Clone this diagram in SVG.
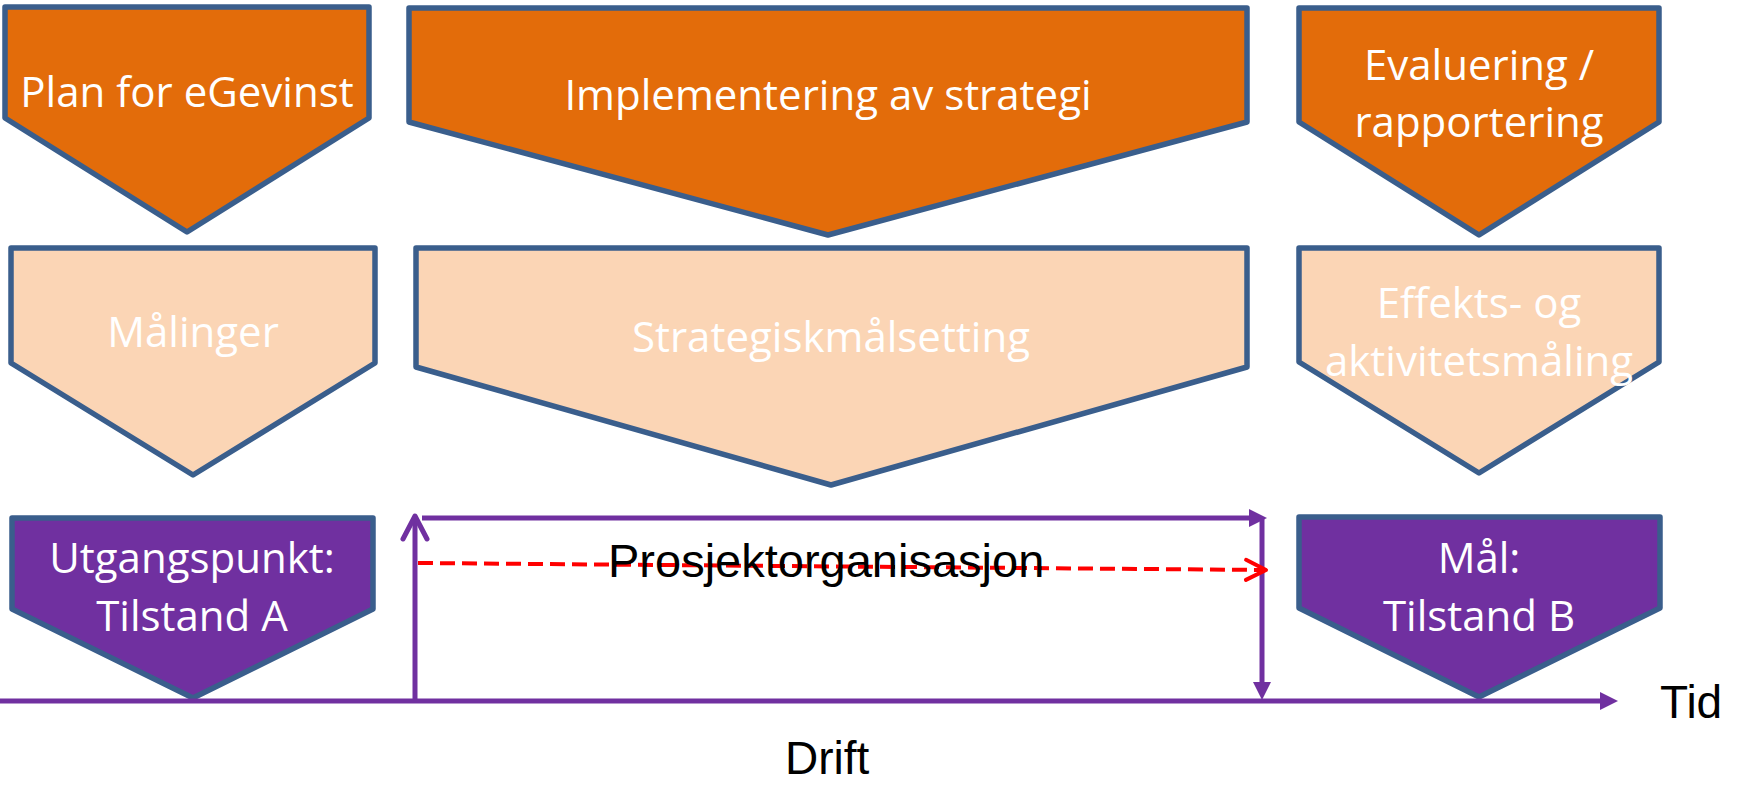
<svg xmlns="http://www.w3.org/2000/svg" width="1742" height="786" viewBox="0 0 1742 786">
  <style>
    .box { stroke: #3A5E8C; stroke-width: 5.5; stroke-linejoin: round; }
    .orange { fill: #E36C0A; }
    .peach { fill: #FBD5B5; }
    .purple { fill: #7030A0; }
    .wt { font-family: "Open Sans", "Noto Sans", sans-serif; font-size: 42px; fill: #FFFFFF; text-anchor: middle; }
    .bt { font-family: "Liberation Sans", Arial, sans-serif; font-size: 46px; fill: #000000; }
    .pline { stroke: #7030A0; stroke-width: 5; fill: none; }
    .rline { stroke: #FF0000; stroke-width: 4; fill: none; stroke-dasharray: 15 7; }
  </style>
  <defs>
    <marker id="tri" markerUnits="userSpaceOnUse" markerWidth="30" markerHeight="30" refX="0" refY="0" orient="auto" overflow="visible">
      <path d="M-10,-9 L8,0 L-10,9 Z" fill="#7030A0"/>
    </marker>
    <marker id="chevP" markerUnits="userSpaceOnUse" markerWidth="30" markerHeight="30" refX="0" refY="0" orient="auto" overflow="visible">
      <path d="M-23,-12 L0,0 L-23,12" fill="none" stroke="#7030A0" stroke-width="5" stroke-linecap="round" stroke-linejoin="round"/>
    </marker>
    <marker id="chevR" markerUnits="userSpaceOnUse" markerWidth="30" markerHeight="30" refX="0" refY="0" orient="auto" overflow="visible">
      <path d="M-20,-10 L0,0 L-20,10" fill="none" stroke="#FF0000" stroke-width="4" stroke-linecap="round" stroke-linejoin="round"/>
    </marker>
  </defs>
  <rect width="1742" height="786" fill="#FFFFFF"/>

  <g id="plan">
    <polygon class="box orange" points="5,7 369,7 369,118 187,232 5,118"/>
    <text class="wt" x="187" y="107">Plan for eGevinst</text>
  </g>
  <g id="implementering">
    <polygon class="box orange" points="409,8 1247,8 1247,122 828,235 409,122"/>
    <text class="wt" x="828" y="110">Implementering av strategi</text>
  </g>
  <g id="evaluering">
    <polygon class="box orange" points="1299,8 1659,8 1659,122 1479,235 1299,122"/>
    <text class="wt" x="1479" y="80">Evaluering /</text>
    <text class="wt" x="1479" y="137">rapportering</text>
  </g>
  <g id="malinger">
    <polygon class="box peach" points="11,248 375,248 375,363 193,475 11,363"/>
    <text class="wt" x="193" y="347">Målinger</text>
  </g>
  <g id="strategisk">
    <polygon class="box peach" points="416,248 1247,248 1247,367 831,485 416,367"/>
    <text class="wt" x="831" y="352">Strategiskmålsetting</text>
  </g>
  <g id="effekt">
    <polygon class="box peach" points="1299,248 1659,248 1659,362 1479,473 1299,362"/>
    <text class="wt" x="1479" y="318">Effekts- og</text>
    <text class="wt" x="1479" y="376">aktivitetsmåling</text>
  </g>
  <g id="utgangspunkt">
    <polygon class="box purple" points="12,518 373,518 373,609 193,698 12,609"/>
    <text class="wt" x="192" y="573">Utgangspunkt:</text>
    <text class="wt" x="192" y="631">Tilstand A</text>
  </g>
  <g id="maal">
    <polygon class="box purple" points="1299,517 1660,517 1660,608 1479,697 1299,608"/>
    <text class="wt" x="1479" y="573">Mål:</text>
    <text class="wt" x="1479" y="631">Tilstand B</text>
  </g>

  <g id="connectors">
    <line class="pline" x1="0" y1="701" x2="1610" y2="701" marker-end="url(#tri)"/>
    <line class="pline" x1="415" y1="701" x2="415" y2="516" marker-end="url(#chevP)"/>
    <line class="pline" x1="422" y1="518" x2="1259" y2="518" marker-end="url(#tri)"/>
    <line class="pline" x1="1262" y1="518" x2="1262" y2="692" marker-end="url(#tri)"/>
    <line class="rline" x1="418" y1="563" x2="1266" y2="570" marker-end="url(#chevR)"/>
  </g>

  <g id="labels">
    <text class="bt" x="608" y="577" style="font-size:47px">Prosjektorganisasjon</text>
    <text class="bt" x="1660" y="718">Tid</text>
    <text class="bt" x="785" y="774">Drift</text>
  </g>
</svg>
